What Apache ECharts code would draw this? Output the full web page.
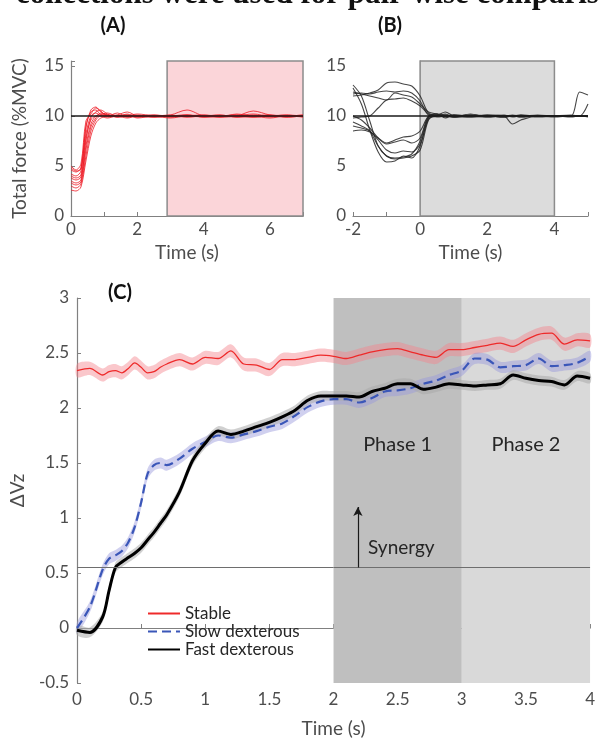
<!DOCTYPE html>
<html>
<head>
<meta charset="utf-8">
<script src="https://cdn.jsdelivr.net/npm/echarts@6/dist/echarts.min.js"></script>
<style>
  html, body { margin: 0; padding: 0; background: #fff; }
  #chart { width: 598px; height: 743px; }
</style>
</head>
<body>
<div id="chart"></div>
<script>
// (A) stable trials, % MVC
const timeA = [0, 0.15, 0.3, 0.45, 0.6, 0.75, 0.9, 1.1, 1.4, 1.7, 2.0, 2.5, 3.0, 3.5, 4.0, 4.5, 5.0, 5.5, 6.0, 6.5, 7.0];
const trialsA = [
  [4.2, 4.0, 4.5, 8.8, 10.6, 10.9, 10.4, 10.1, 10.0, 10.2, 9.9, 10.0, 10.1, 10.6, 10.0, 9.9, 10.0, 10.5, 10.1, 9.9, 10.0],
  [3.5, 3.3, 3.6, 7.5, 9.8, 10.4, 10.6, 10.2, 9.9, 10.0, 10.1, 9.9, 10.0, 10.1, 9.9, 10.0, 10.1, 10.0, 9.8, 10.0, 10.0],
  [5.0, 4.6, 5.2, 9.5, 10.2, 10.8, 10.5, 10.0, 10.3, 9.9, 10.0, 10.1, 9.9, 10.0, 10.1, 9.9, 10.0, 10.2, 10.0, 10.1, 9.9],
  [3.0, 2.8, 3.2, 6.0, 8.5, 9.6, 10.1, 10.3, 10.0, 10.1, 9.8, 10.0, 10.0, 9.9, 10.0, 10.1, 9.9, 9.9, 10.0, 9.9, 10.0],
  [4.6, 4.4, 4.8, 8.2, 10.0, 10.3, 10.0, 9.8, 10.1, 10.4, 10.0, 9.9, 10.0, 10.1, 10.0, 9.9, 10.2, 10.0, 10.1, 10.0, 10.1],
  [3.8, 3.6, 3.9, 7.0, 9.2, 10.0, 10.2, 10.0, 9.9, 10.0, 10.2, 10.0, 9.8, 10.0, 9.9, 10.0, 10.0, 9.9, 10.0, 10.1, 10.0],
  [2.6, 2.5, 2.9, 5.5, 8.0, 9.3, 9.8, 10.0, 10.1, 9.9, 10.0, 10.0, 10.1, 9.9, 10.0, 10.0, 9.9, 10.1, 9.9, 10.0, 9.9],
  [4.0, 3.8, 4.1, 7.8, 9.6, 10.0, 10.0, 10.1, 9.9, 10.0, 9.9, 10.1, 10.0, 10.0, 10.1, 10.0, 10.0, 10.0, 10.1, 9.9, 10.0],
  [3.3, 3.1, 3.4, 6.6, 8.9, 9.8, 10.3, 10.1, 10.0, 9.8, 10.0, 10.0, 9.9, 10.1, 9.9, 10.0, 10.1, 9.9, 10.0, 10.0, 10.1],
  [4.8, 4.5, 4.7, 9.0, 10.4, 10.6, 10.1, 9.9, 10.0, 10.1, 10.0, 9.9, 10.0, 10.0, 10.0, 10.1, 9.9, 10.0, 10.0, 10.0, 10.0]
];

// (B) dexterous trials, % MVC
const timeB = [-2, -1.75, -1.5, -1.25, -1.0, -0.75, -0.5, -0.25, 0, 0.25, 0.5, 0.75, 1.0, 1.5, 2.0, 2.5, 2.75, 3.0, 3.5, 4.0, 4.5, 4.75, 5.0];
const trialsB = [
  [12.2, 12.3, 12.2, 12.4, 12.5, 12.4, 12.5, 12.3, 11.5, 10.1, 10.0, 10.2, 9.9, 10.1, 10.0, 9.9, 10.0, 10.1, 10.0, 10.0, 10.0, 10.0, 10.0],
  [12.0, 12.1, 12.3, 12.6, 13.3, 13.4, 13.2, 13.0, 12.0, 10.3, 10.1, 10.4, 10.0, 9.9, 10.0, 10.1, 9.9, 10.0, 9.9, 10.0, 10.1, 10.0, 10.0],
  [13.1, 12.0, 9.5, 7.0, 6.0, 5.8, 5.9, 6.2, 7.5, 9.9, 10.2, 9.8, 10.1, 10.0, 10.0, 9.9, 10.0, 10.0, 10.1, 10.0, 10.0, 10.0, 9.9],
  [12.8, 11.2, 8.6, 6.4, 5.4, 5.5, 6.0, 5.8, 7.0, 9.7, 10.0, 10.1, 9.9, 10.2, 9.9, 10.0, 10.0, 10.1, 10.0, 10.0, 10.0, 10.0, 10.0],
  [9.0, 8.8, 8.5, 7.6, 6.6, 6.3, 6.5, 6.4, 7.2, 9.8, 10.1, 9.9, 10.0, 9.9, 10.1, 10.0, 9.2, 9.6, 10.0, 10.0, 9.9, 10.0, 10.0],
  [8.5, 8.6, 8.4, 7.8, 7.3, 7.6, 7.9, 8.0, 8.5, 10.0, 10.2, 10.0, 9.9, 10.0, 10.0, 9.9, 10.0, 10.0, 10.0, 10.0, 10.0, 12.4, 12.1],
  [9.8, 9.9, 10.0, 10.8, 11.6, 11.7, 11.8, 11.5, 11.0, 10.2, 9.9, 10.0, 10.1, 10.0, 9.9, 10.0, 10.0, 9.9, 10.0, 10.0, 10.0, 10.0, 11.2],
  [10.0, 9.6, 8.8, 7.8, 7.2, 7.4, 7.6, 7.3, 7.8, 9.9, 10.0, 10.1, 10.0, 10.1, 10.0, 10.0, 10.0, 10.0, 10.0, 9.9, 10.0, 10.0, 10.0],
  [9.4, 9.0, 8.5, 7.0, 6.0, 5.7, 5.8, 6.0, 6.6, 9.6, 10.1, 10.0, 9.9, 10.0, 10.1, 10.0, 10.0, 9.9, 10.0, 10.0, 10.0, 10.0, 10.0],
  [12.4, 12.2, 12.0, 11.8, 11.6, 12.3, 12.1, 11.9, 11.2, 10.4, 10.2, 10.0, 10.1, 10.0, 10.0, 10.0, 10.1, 10.0, 10.0, 10.0, 10.0, 10.0, 10.0]
];
const targetForce = 10;

// (C) delta Vz
const timeC = [0, 0.1, 0.2, 0.25, 0.3, 0.35, 0.4, 0.45, 0.5, 0.55, 0.6, 0.65, 0.7, 0.8, 0.9, 1.0, 1.1, 1.2, 1.3, 1.4, 1.5, 1.6, 1.7, 1.8, 1.9, 2.0, 2.1, 2.2, 2.3, 2.4, 2.5, 2.6, 2.7, 2.8, 2.9, 3.0, 3.1, 3.2, 3.3, 3.4, 3.5, 3.6, 3.7, 3.8, 3.9, 4.0];
const stable = [2.34, 2.36, 2.30, 2.33, 2.34, 2.32, 2.36, 2.41, 2.37, 2.32, 2.33, 2.37, 2.40, 2.44, 2.40, 2.46, 2.45, 2.52, 2.40, 2.39, 2.35, 2.44, 2.44, 2.46, 2.48, 2.47, 2.45, 2.48, 2.51, 2.53, 2.54, 2.51, 2.48, 2.46, 2.53, 2.53, 2.55, 2.57, 2.59, 2.56, 2.62, 2.67, 2.68, 2.58, 2.62, 2.61];
const slowDex = [0.0, 0.19, 0.53, 0.63, 0.66, 0.70, 0.78, 0.92, 1.14, 1.40, 1.48, 1.50, 1.48, 1.54, 1.63, 1.69, 1.75, 1.73, 1.76, 1.79, 1.83, 1.86, 1.93, 2.01, 2.06, 2.08, 2.08, 2.05, 2.09, 2.15, 2.16, 2.18, 2.22, 2.25, 2.30, 2.34, 2.45, 2.44, 2.37, 2.38, 2.39, 2.45, 2.38, 2.39, 2.41, 2.47];
const fastDex = [-0.02, -0.04, 0.10, 0.34, 0.55, 0.60, 0.64, 0.68, 0.73, 0.80, 0.87, 0.95, 1.03, 1.24, 1.52, 1.68, 1.79, 1.76, 1.79, 1.83, 1.87, 1.92, 1.98, 2.07, 2.11, 2.11, 2.11, 2.10, 2.15, 2.18, 2.22, 2.22, 2.17, 2.19, 2.22, 2.21, 2.20, 2.21, 2.22, 2.30, 2.27, 2.25, 2.24, 2.21, 2.29, 2.27];
// half-width of the shaded error bands
const stableSpread = 0.06;
const slowSpread = 0.05;
const fastSpread = 0.045;
const synergyLevel = 0.55;
const synergyArrow = [2.19, 0.55, 1.1];
const phases = [[2, 3, 'Phase 1', '#bfbfbf'], [3, 4, 'Phase 2', '#d9d9d9']];

const FONT = 'Lato';
const AXIS_GREY = '#808080';
const LABEL_GREY = '#4d4d4d';

const chart = echarts.init(document.getElementById('chart'));

function pairs(xs, ys) {
  return xs.map((x, i) => [x, ys[i]]);
}

function axisBase(extra) {
  return Object.assign({
    type: 'value',
    axisLine: { show: true, lineStyle: { color: AXIS_GREY, width: 1.2 } },
    axisTick: { show: true, inside: true, length: 4, lineStyle: { color: AXIS_GREY } },
    splitLine: { show: false },
    axisLabel: { color: LABEL_GREY, fontFamily: FONT, fontSize: 17 },
    nameTextStyle: { color: LABEL_GREY, fontFamily: FONT, fontSize: 19 },
    nameLocation: 'middle'
  }, extra);
}

function band(name, ys, spread, color) {
  return {
    name: name + ' band',
    type: 'custom',
    xAxisIndex: 2,
    yAxisIndex: 2,
    z: 2,
    silent: true,
    data: [0],
    renderItem: function (params, api) {
      const top = timeC.map((t, i) => api.coord([t, ys[i] + spread]));
      const bottom = timeC.map((t, i) => api.coord([t, ys[i] - spread])).reverse();
      return {
        type: 'polygon',
        shape: { points: top.concat(bottom), smooth: 0.3 },
        style: { fill: color }
      };
    }
  };
}

const forceLabelFmt = v => (v % 5 === 0 ? String(v) : '');

const series = [];

trialsA.forEach((ys, k) => {
  series.push({
    type: 'line', xAxisIndex: 0, yAxisIndex: 0,
    data: pairs(timeA, ys), showSymbol: false, smooth: 0.3,
    lineStyle: { color: '#ee1c25', width: 1, opacity: 0.8 },
    z: 3, silent: true,
    markArea: k === 0 ? {
      silent: true,
      itemStyle: { color: '#fbd5d9', borderColor: '#8c8c8c', borderWidth: 1.5 },
      data: [[{ xAxis: 2.9 }, { xAxis: 7 }]]
    } : undefined,
    markLine: k === 0 ? {
      silent: true, symbol: 'none', label: { show: false },
      lineStyle: { color: '#1a1a1a', width: 1.5, type: 'solid' },
      data: [{ yAxis: targetForce }]
    } : undefined
  });
});

trialsB.forEach((ys, k) => {
  series.push({
    type: 'line', xAxisIndex: 1, yAxisIndex: 1,
    data: pairs(timeB, ys), showSymbol: false, smooth: 0.3,
    lineStyle: { color: '#262626', width: 1.1, opacity: 0.85 },
    z: 3, silent: true,
    markArea: k === 0 ? {
      silent: true,
      itemStyle: { color: '#dcdcdc', borderColor: '#8c8c8c', borderWidth: 1.5 },
      data: [[{ xAxis: 0 }, { xAxis: 4 }]]
    } : undefined,
    markLine: k === 0 ? {
      silent: true, symbol: 'none', label: { show: false },
      lineStyle: { color: '#1a1a1a', width: 1.5, type: 'solid' },
      data: [{ yAxis: targetForce }]
    } : undefined
  });
});

// phases, synergy threshold and arrow
series.push({
  name: 'annotations',
  type: 'line', xAxisIndex: 2, yAxisIndex: 2, data: [], z: 1, silent: true,
  markArea: {
    silent: true,
    data: phases.map(p => [
      {
        xAxis: p[0], name: p[2],
        itemStyle: { color: p[3] },
        label: {
          show: true, position: ['50%', '38%'], align: 'center', verticalAlign: 'middle',
          color: '#262626', fontFamily: FONT, fontSize: 20
        }
      },
      { xAxis: p[1] }
    ])
  },
  markLine: {
    silent: true, label: { show: false }, symbol: 'none',
    data: [
      { yAxis: synergyLevel, lineStyle: { color: '#6e6e6e', width: 1, type: 'solid' } },
      [
        { coord: [synergyArrow[0], synergyArrow[1]], symbol: 'none', lineStyle: { color: '#1a1a1a', width: 1.2, type: 'solid' } },
        { coord: [synergyArrow[0], synergyArrow[2]], symbol: 'arrow', symbolSize: [7, 9] }
      ]
    ]
  },
  markPoint: {
    silent: true,
    symbol: 'circle', symbolSize: 0,
    data: [{ coord: [2.23, 0.73], value: 'Synergy' }],
    label: { show: true, position: 'right', formatter: 'Synergy', color: '#262626', fontFamily: FONT, fontSize: 19 }
  }
});

series.push(band('Stable', stable, stableSpread, 'rgba(245,130,140,0.45)'));
series.push(band('Slow dexterous', slowDex, slowSpread, 'rgba(150,150,220,0.45)'));
series.push(band('Fast dexterous', fastDex, fastSpread, 'rgba(170,170,170,0.55)'));

series.push({
  name: 'Stable', type: 'line', xAxisIndex: 2, yAxisIndex: 2, z: 4,
  data: pairs(timeC, stable), showSymbol: false, smooth: 0.3,
  lineStyle: { color: '#ee2a2a', width: 1.3 }, itemStyle: { color: '#ee2a2a' }
});
series.push({
  name: 'Slow dexterous', type: 'line', xAxisIndex: 2, yAxisIndex: 2, z: 4,
  data: pairs(timeC, slowDex), showSymbol: false, smooth: 0.3,
  lineStyle: { color: '#3a56b8', width: 2.2, type: [9, 5] }, itemStyle: { color: '#3a56b8' }
});
series.push({
  name: 'Fast dexterous', type: 'line', xAxisIndex: 2, yAxisIndex: 2, z: 4,
  data: pairs(timeC, fastDex), showSymbol: false, smooth: 0.3,
  lineStyle: { color: '#000', width: 3 }, itemStyle: { color: '#000' }
});

const option = {
  animation: false,
  backgroundColor: '#fff',
  grid: [
    { left: 71, top: 61, width: 232, height: 155 },
    { left: 353, top: 61, width: 235, height: 155 },
    { left: 72, top: 298, width: 523, height: 392 }
  ],
  xAxis: [
    axisBase({ gridIndex: 0, min: 0, max: 7, interval: 1, name: 'Time (s)', nameGap: 27,
      axisLabel: { color: LABEL_GREY, fontFamily: FONT, fontSize: 17, margin: 5, formatter: v => (v % 2 === 0 ? String(v) : '') } }),
    axisBase({ gridIndex: 1, min: -2, max: 5, interval: 1, name: 'Time (s)', nameGap: 27,
      axisLabel: { color: LABEL_GREY, fontFamily: FONT, fontSize: 17, margin: 5, formatter: v => (v % 2 === 0 ? String(v) : '') } }),
    axisBase({ gridIndex: 2, min: 0, max: 4, interval: 0.5, name: 'Time (s)', nameGap: 36,
      axisLabel: { color: LABEL_GREY, fontFamily: FONT, fontSize: 17, margin: 8 } })
  ],
  yAxis: [
    axisBase({ gridIndex: 0, min: 0, max: 15.5, interval: 5, name: 'Total force (%MVC)', nameGap: 42,
      axisLabel: { color: LABEL_GREY, fontFamily: FONT, fontSize: 17, margin: 7, formatter: forceLabelFmt } }),
    axisBase({ gridIndex: 1, min: 0, max: 15.5, interval: 5,
      axisLabel: { color: LABEL_GREY, fontFamily: FONT, fontSize: 17, margin: 7, formatter: forceLabelFmt } }),
    axisBase({ gridIndex: 2, min: -0.5, max: 3, interval: 0.5, name: 'ΔVz', nameGap: 50,
      axisLabel: { color: LABEL_GREY, fontFamily: FONT, fontSize: 17, margin: 8 } })
  ],
  legend: {
    data: ['Stable', 'Slow dexterous', 'Fast dexterous'],
    orient: 'vertical',
    left: 142, top: 600,
    itemWidth: 32, itemHeight: 14, itemGap: 1,
    itemStyle: { opacity: 0 },
    textStyle: { color: '#262626', fontFamily: FONT, fontSize: 17 },
    selectedMode: false
  },
  graphic: [
    { type: 'text', x: 16, y: 10, style: { text: 'collections were used for pair-wise comparisons', font: 'bold 31px "Liberation Serif"', fill: '#111', verticalAlign: 'bottom' } },
    { type: 'text', x: 113, y: 26, style: { text: '(A)', font: 'bold 20px Lato', fill: '#111', align: 'center', verticalAlign: 'middle' } },
    { type: 'text', x: 390, y: 26, style: { text: '(B)', font: 'bold 20px Lato', fill: '#111', align: 'center', verticalAlign: 'middle' } },
    { type: 'text', x: 120, y: 293, style: { text: '(C)', font: 'bold 20px Lato', fill: '#111', align: 'center', verticalAlign: 'middle' } }
  ],
  series: series
};

chart.setOption(option);
</script>
</body>
</html>
